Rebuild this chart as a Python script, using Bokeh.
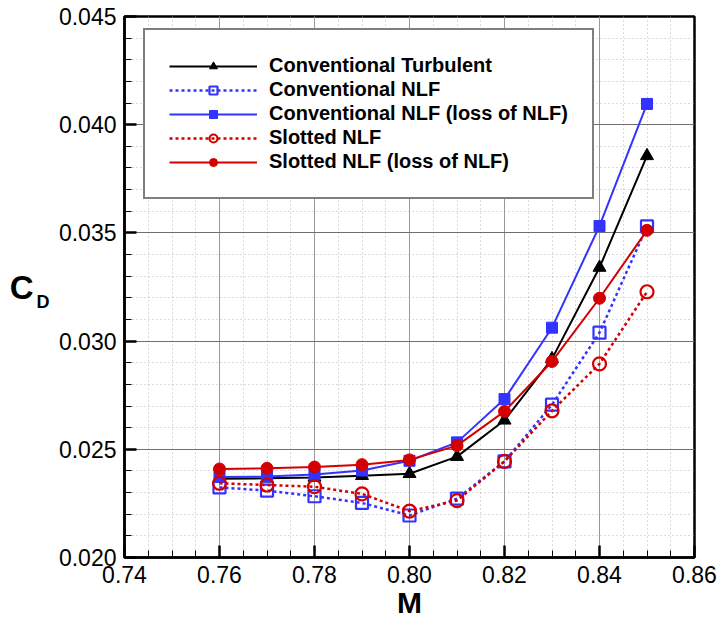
from bokeh.plotting import figure
from bokeh.models import (Range1d, FixedTicker, NumeralTickFormatter, Legend, LegendItem, LinearAxis)
from bokeh.embed import file_html
from bokeh.resources import INLINE

mach = [0.76, 0.77, 0.78, 0.79, 0.80, 0.81, 0.82, 0.83, 0.84, 0.85]
conv_turb = [0.02364, 0.02366, 0.02370, 0.02378, 0.02387, 0.02466, 0.02634, 0.02918, 0.03340, 0.03856]
conv_nlf = [0.02324, 0.02309, 0.02283, 0.02252, 0.02194, 0.02272, 0.02444, 0.02706, 0.03039, 0.03530]
conv_nlf_loss = [0.02372, 0.02374, 0.02383, 0.02402, 0.02447, 0.02532, 0.02732, 0.03062, 0.03532, 0.04096]
slot_nlf = [0.02343, 0.02335, 0.02327, 0.02294, 0.02214, 0.02263, 0.02444, 0.02678, 0.02895, 0.03228]
slot_nlf_loss = [0.02409, 0.02412, 0.02418, 0.02429, 0.02451, 0.02517, 0.02675, 0.02906, 0.03198, 0.03512]

x_ticks = [0.74, 0.76, 0.78, 0.80, 0.82, 0.84, 0.86]
y_ticks = [0.020, 0.025, 0.030, 0.035, 0.040, 0.045]
labels = ["Conventional Turbulent", "Conventional NLF", "Conventional NLF (loss of NLF)",
          "Slotted NLF", "Slotted NLF (loss of NLF)"]

BLUE = "#3333ff"
RED = "#d40000"
FONT = "Liberation Sans"

p = figure(width=718, height=624, output_backend="svg", toolbar_location=None,
           x_range=Range1d(0.74, 0.86), y_range=Range1d(0.020, 0.045),
           min_border_left=124, min_border_right=24, min_border_top=16, min_border_bottom=67)
p.background_fill_color = "white"
p.border_fill_color = "white"
p.outline_line_color = "black"
p.outline_line_width = 2.5

x_minor = [round(0.74 + 0.005 * i, 3) for i in range(25)]
y_minor = [round(0.020 + 0.001 * i, 3) for i in range(26)]
p.xaxis.ticker = FixedTicker(ticks=x_ticks, minor_ticks=x_minor)
p.yaxis.ticker = FixedTicker(ticks=y_ticks, minor_ticks=y_minor)
p.xaxis.formatter = NumeralTickFormatter(format="0.00")
p.yaxis.formatter = NumeralTickFormatter(format="0.000")

for ax in (p.xaxis[0], p.yaxis[0]):
    ax.axis_line_width = 2.5
    ax.axis_line_color = "black"
    ax.major_tick_in = 12
    ax.major_tick_out = 0
    ax.minor_tick_in = 7
    ax.minor_tick_out = 0
    ax.major_tick_line_width = 2.5
    ax.minor_tick_line_width = 1
    ax.major_label_text_font = FONT
    ax.major_label_text_font_size = "23px"
    ax.major_label_text_color = "black"
    ax.major_label_standoff = 8

p.xaxis.axis_label = "M"
p.xaxis.axis_label_text_font = FONT
p.xaxis.axis_label_text_font_style = "bold"
p.xaxis.axis_label_text_font_size = "30px"
p.xaxis.axis_label_text_color = "black"
p.xaxis.axis_label_standoff = 0

# y axis title "C" with subscript "D", built from two label-only axes
def label_axis(text, size, standoff, line_height):
    a = LinearAxis(ticker=FixedTicker(ticks=[]), axis_label=text,
                   axis_label_orientation="horizontal",
                   axis_line_color=None, major_tick_line_color=None,
                   minor_tick_line_color=None, major_label_text_font_size="0px",
                   major_label_standoff=0, major_tick_in=0, major_tick_out=0,
                   minor_tick_in=0, minor_tick_out=0)
    a.axis_label_text_font = FONT
    a.axis_label_text_font_style = "bold"
    a.axis_label_text_font_size = size
    a.axis_label_text_color = "black"
    a.axis_label_text_line_height = line_height
    a.axis_label_standoff = standoff
    return a

# the subscript sits below the centre line: a blank first line pushes it down
p.add_layout(label_axis("\nD", "18px", 6, 1.5), "left")
p.add_layout(label_axis("C", "33px", 0, 1.2), "left")

p.xgrid.grid_line_color = "#999999"
p.ygrid.grid_line_color = "#707070"
p.xgrid.grid_line_width = 1
p.ygrid.grid_line_width = 1
p.xgrid.minor_grid_line_color = "#b5b5b5"
p.ygrid.minor_grid_line_color = "#b5b5b5"
p.xgrid.minor_grid_line_dash = "1 3"
p.ygrid.minor_grid_line_dash = "1 3"

# series
r1l = p.line(mach, conv_turb, line_color="black", line_width=2)
r1m = p.scatter(mach, conv_turb, marker="triangle", size=13, fill_color="black", line_color="black")

r2l = p.line(mach, conv_nlf, line_color=BLUE, line_width=2.5, line_dash="3 3")
r2m = p.scatter(mach, conv_nlf, marker="square", size=12, fill_alpha=0, line_color=BLUE, line_width=2.2)

r3l = p.line(mach, conv_nlf_loss, line_color=BLUE, line_width=2)
r3m = p.scatter(mach, conv_nlf_loss, marker="square", size=11, fill_color=BLUE, line_color=BLUE)

r4l = p.line(mach, slot_nlf, line_color=RED, line_width=2.5, line_dash="3 3")
r4m = p.scatter(mach, slot_nlf, marker="circle", size=13, fill_alpha=0, line_color=RED, line_width=2.2)

r5l = p.line(mach, slot_nlf_loss, line_color=RED, line_width=2)
r5m = p.scatter(mach, slot_nlf_loss, marker="circle", size=12, fill_color=RED, line_color=RED)

items = [LegendItem(label=labels[0], renderers=[r1l, r1m]),
         LegendItem(label=labels[1], renderers=[r2l, r2m]),
         LegendItem(label=labels[2], renderers=[r3l, r3m]),
         LegendItem(label=labels[3], renderers=[r4l, r4m]),
         LegendItem(label=labels[4], renderers=[r5l, r5m])]
legend = Legend(items=items, location=(19, 358))
legend.border_line_color = "black"
legend.border_line_width = 2.5
legend.background_fill_alpha = 1
legend.background_fill_color = "white"
legend.padding = 24
legend.margin = 0
legend.spacing = 1
legend.glyph_width = 88
legend.glyph_height = 20
legend.label_height = 23
legend.label_standoff = 12
legend.label_text_font = FONT
legend.label_text_font_style = "bold"
legend.label_text_font_size = "20px"
legend.label_text_color = "black"
p.add_layout(legend, "center")

open("out.html", "w").write(file_html(p, INLINE))
